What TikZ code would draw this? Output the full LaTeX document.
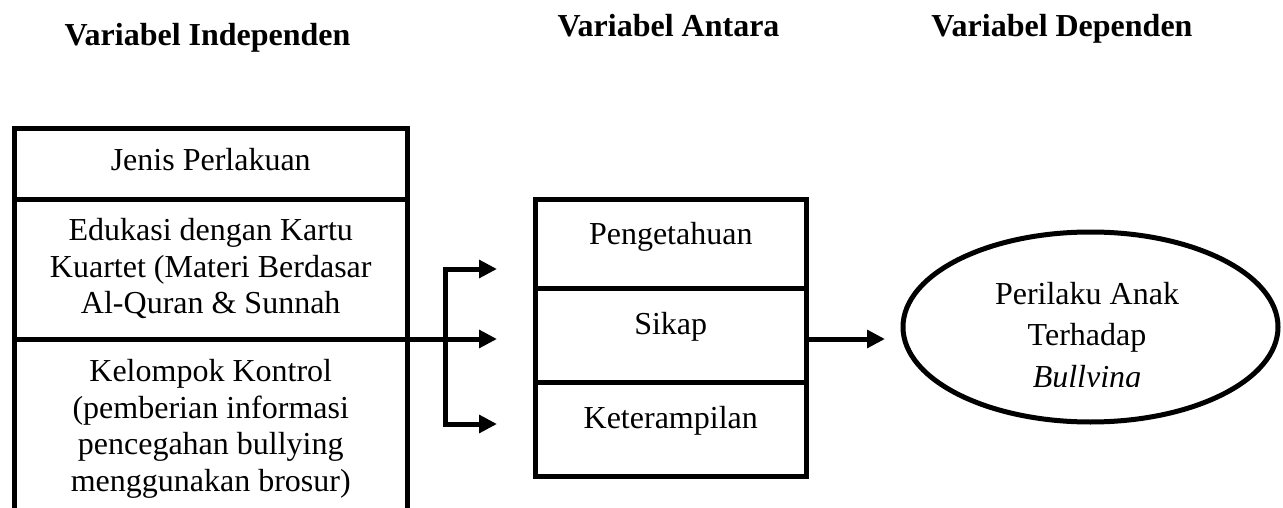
\documentclass[tikz,border=0pt]{standalone}
\usepackage{fontspec}
\setmainfont{Liberation Serif}
\usetikzlibrary{arrows.meta,shapes.geometric}
\begin{document}
\begin{tikzpicture}[x=1pt,y=-1pt,
  every node/.style={inner sep=0pt, outer sep=0pt},
  body/.style={font=\fontsize{32}{36.8}\selectfont, align=center},
  head/.style={font=\fontsize{32}{38}\selectfont\bfseries, anchor=base},
  frame/.style={draw, line width=5pt},
  lcell/.style={frame, minimum width=393.5pt},
  mcell/.style={frame, minimum width=271.5pt},
  arr/.style={line width=5pt, -{Triangle[length=18pt,width=17.5pt]}}
]
\useasboundingbox (0,0) rectangle (1283,508);

% column headings
\node[head] (hInd) at (207.5,46) {Variabel Independen};
\node[head] (hAnt) at (668.5,37) {Variabel Antara};
\node[head] (hDep) at (1062,37) {Variabel Dependen};

% independent variable table (runs off the lower edge)
\node[lcell, minimum height=70pt]  (l1) at (210.75,164) {};
\node[lcell, minimum height=140pt] (l2) at (210.75,269) {};
\node[lcell, minimum height=221pt] (l3) at (210.75,449.5) {};
\node[body, anchor=base]  (t1) at (210.75,171) {Jenis Perlakuan};
\node[body, anchor=north] (t2) at (210.75,218.1) {Edukasi dengan Kartu\\Kuartet (Materi Berdasar\\Al-Quran \& Sunnah};
\node[body, anchor=north] (t3) at (210.75,359.1) {Kelompok Kontrol\\(pemberian informasi\\pencegahan bullying\\menggunakan brosur)};

% intermediate variables
\node[mcell, minimum height=89pt]   (m1) at (670.75,243.5) {};
\node[mcell, minimum height=94pt]   (m2) at (670.75,335) {};
\node[mcell, minimum height=94.5pt] (m3) at (670.75,429.25) {};
\node[body, anchor=base] (tm1) at (670.75,244) {Pengetahuan};
\node[body, anchor=base] (tm2) at (670.75,334) {Sikap};
\node[body, anchor=base] (tm3) at (670.75,428) {Keterampilan};

% dependent variable
\node[frame, ellipse, minimum width=375pt, minimum height=190pt] (dep) at (1090.5,327) {};
\begin{scope}
  \clip (900,240) rectangle (1280,386.5);
  \node[body, anchor=north, font=\fontsize{32}{41.5}\selectfont] (tdep) at (1087,282.1)
    {Perilaku Anak\\Terhadap\\\textit{Bullying}};
\end{scope}

% connectors
\coordinate (fork) at (445,339);
\coordinate (tipU) at (497,269);
\coordinate (tipS) at (497,339);
\coordinate (tipD) at (497,424);
\coordinate (tipE) at (885,339);
\draw[arr] (l2.south east) -- (tipS);
\draw[arr] (fork) |- (tipU);
\draw[arr] (fork) |- (tipD);
\draw[arr] (m2.east |- tipE) -- (tipE);
\end{tikzpicture}
\end{document}
